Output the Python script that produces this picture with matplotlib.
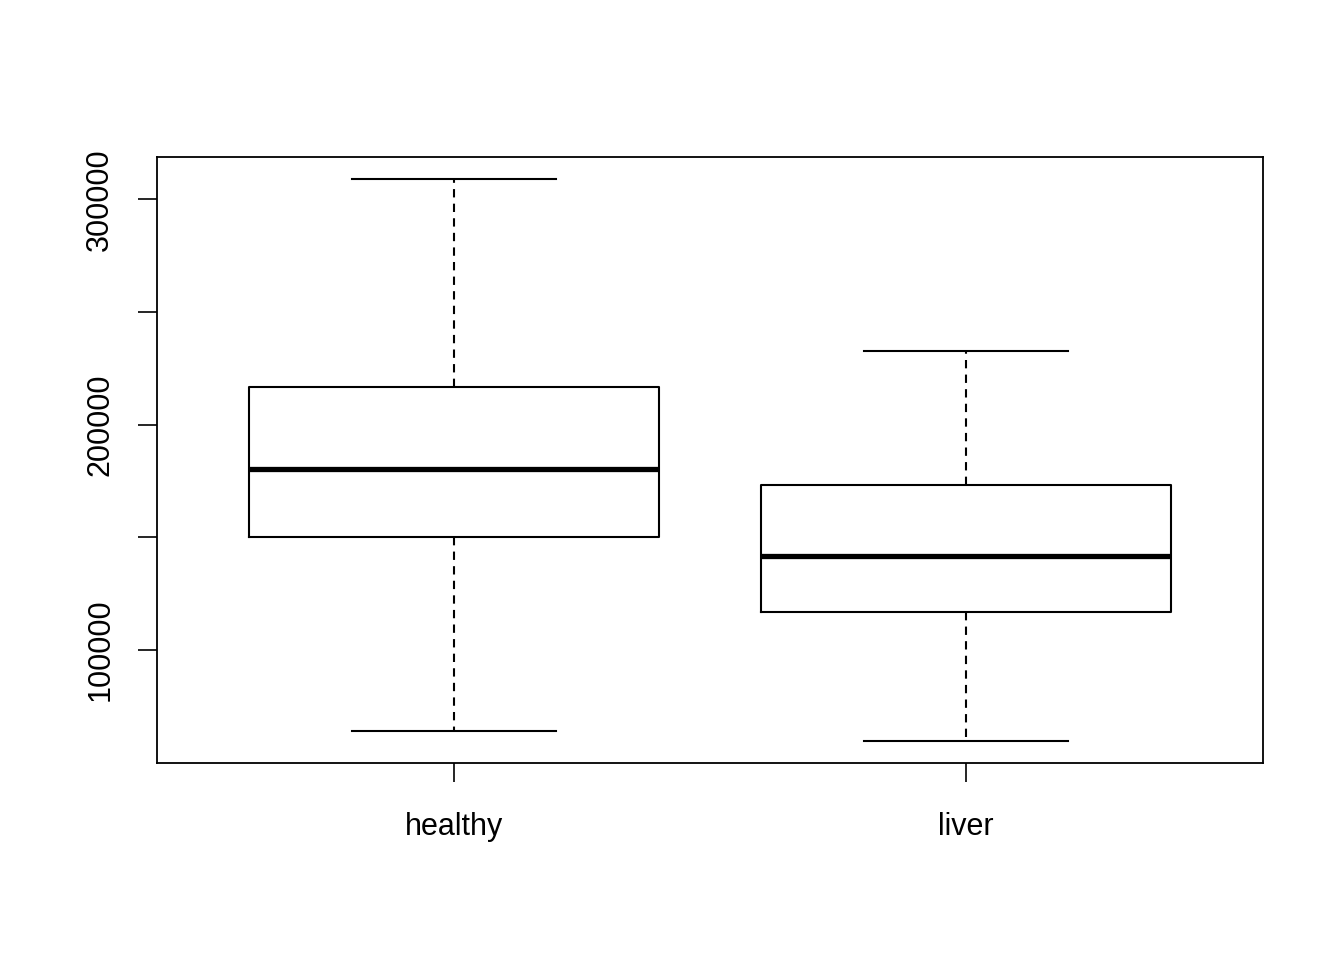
import matplotlib
matplotlib.use("Agg")
import matplotlib.pyplot as plt

# box statistics
groups = ["healthy", "liver"]
lower_whisker = [64000, 59700]
q1 = [150100, 116900]
median = [180300, 141700]
q3 = [216600, 173200]
upper_whisker = [308900, 232600]

plt.rcParams['font.family'] = ['Liberation Sans', 'DejaVu Sans']

stats = []
for i, g in enumerate(groups):
    stats.append(dict(label=g, whislo=lower_whisker[i], q1=q1[i], med=median[i],
                      q3=q3[i], whishi=upper_whisker[i], fliers=[]))

fig = plt.figure(figsize=(13.44, 9.6), dpi=100)
ax = fig.add_axes([157/1344, 1 - 763/960, (1263-157)/1344, (763-157)/960])

ax.bxp(stats, positions=[1, 2], widths=0.8, showfliers=False,
       boxprops=dict(color='black', linewidth=1.5),
       medianprops=dict(color='black', linewidth=3.8, solid_capstyle='butt'),
       whiskerprops=dict(color='black', linewidth=1.5, linestyle=(0, (4, 3))),
       capprops=dict(color='black', linewidth=1.5), capwidths=0.4)

ax.set_xlim(0.42, 2.58)
lo, hi = min(lower_whisker), max(upper_whisker)
pad = (hi - lo) * 0.04
ax.set_ylim(lo - pad, hi + pad)

ax.set_yticks([100000, 150000, 200000, 250000, 300000])
ax.set_yticklabels(["100000", "", "200000", "", "300000"], rotation=90, va='center')
ax.set_xticks([1, 2])
ax.set_xticklabels(groups)

ax.tick_params(direction='out', length=14, width=1.2, labelsize=22, pad=16)
ax.tick_params(axis='x', pad=21)
for s in ax.spines.values():
    s.set_linewidth(1.3)

fig.savefig("out.png", dpi=100)
